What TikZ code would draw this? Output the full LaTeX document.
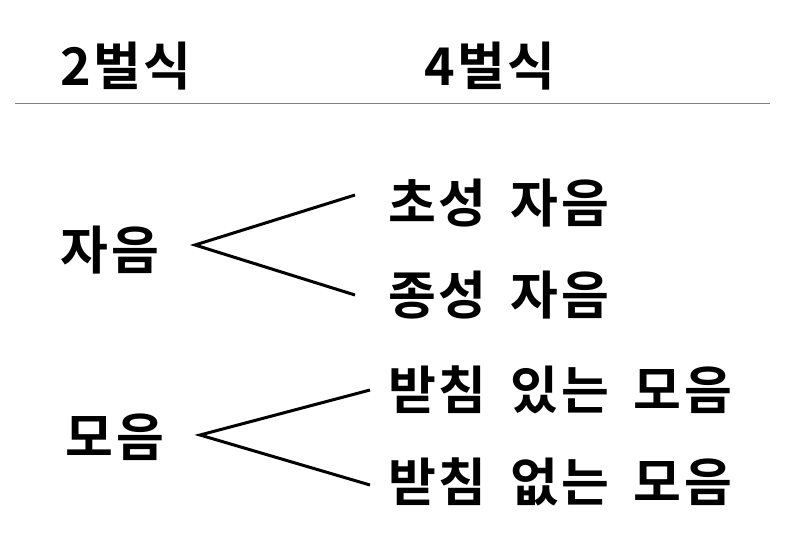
\documentclass[tikz,border=0pt]{standalone}
\usepackage{fontspec}
\newfontfamily\kr[LetterSpace=5,WordSpace=1.7]{Noto Sans CJK KR Bold}
\begin{document}
\begin{tikzpicture}[x=1pt,y=-1pt,
  lbl/.style={font=\kr\fontsize{52}{56}\selectfont, inner sep=0pt},
  rl/.style={lbl, anchor=west},
  br/.style={line width=3pt}]
\useasboundingbox (0,0) rectangle (800,533);
\node[lbl] (h2) at (126,66) {2벌식};
\node[lbl] (h4) at (490,66) {4벌식};
\coordinate (l1) at (15,103); \coordinate (l2) at (770,103);
\draw[gray, line width=1pt] (l1) -- (l2);
\node[lbl] (ja) at (110,250) {자음};
\node[lbl] (mo) at (115,437) {모음};
\node[rl] (a1) at (388,203) {초성 자음};
\node[rl] (a2) at (388,295) {종성 자음};
\node[rl] (b1) at (388,390) {받침 있는 모음};
\node[rl] (b2) at (388,482) {받침 없는 모음};
\coordinate (p) at (195,245); \coordinate (q) at (200,435);
\coordinate (pa) at (355,195); \coordinate (pb) at (355,295);
\coordinate (qa) at (370,390); \coordinate (qb) at (370,485);
\draw[br] (pa) -- (p) -- (pb);
\draw[br] (qa) -- (q) -- (qb);
\end{tikzpicture}
\end{document}
